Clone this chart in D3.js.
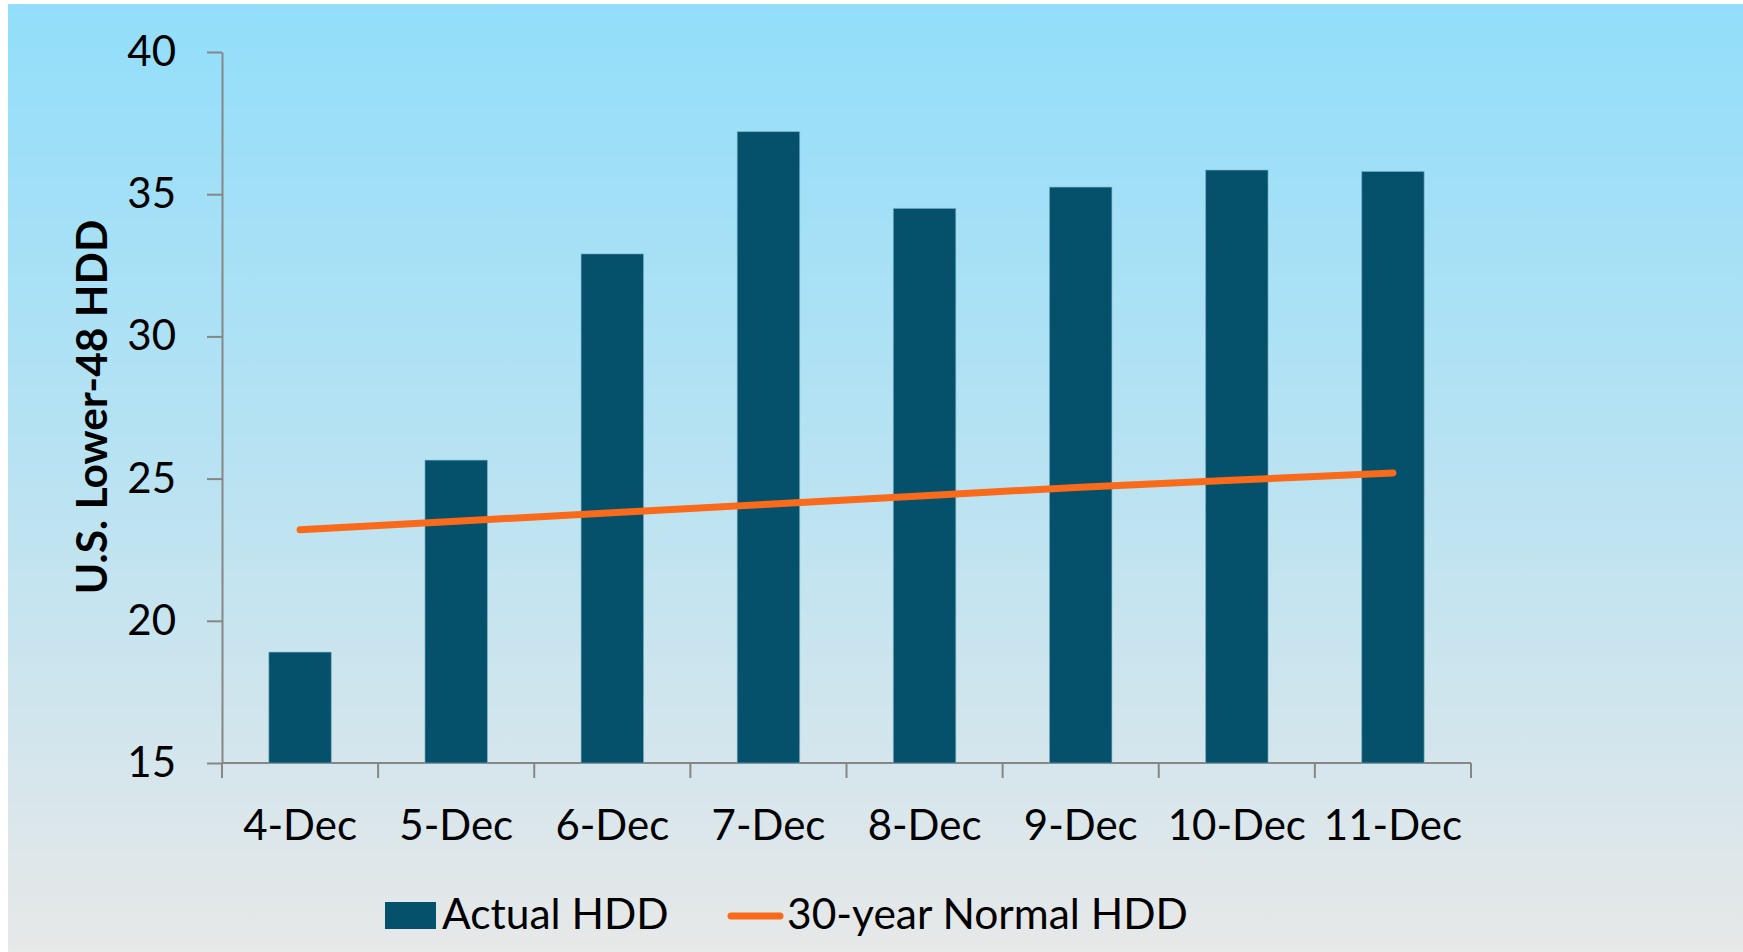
<!DOCTYPE html>
<html>
<head>
<meta charset="utf-8">
<script src="https://cdn.jsdelivr.net/npm/d3@7"></script>
<style>
html,body{margin:0;padding:0;background:#fff;}
svg{display:block;}
text{font-family:Lato,"Open Sans",sans-serif;}
</style>
</head>
<body>
<svg id="chart" width="1743" height="952"></svg>
<script>
const categories = ["4-Dec","5-Dec","6-Dec","7-Dec","8-Dec","9-Dec","10-Dec","11-Dec"];
const actualHDD = [18.9, 25.65, 32.9, 37.2, 34.5, 35.25, 35.85, 35.8];
const normalHDD = [23.2, 23.5, 23.8, 24.1, 24.4, 24.7, 24.95, 25.2];
const yTicks = [15, 20, 25, 30, 35, 40];
const yTitle = "U.S. Lower-48 HDD";
const legendLabels = ["Actual HDD", "30-year Normal HDD"];

const svg = d3.select("#chart");
const defs = svg.append("defs");
const grad = defs.append("linearGradient").attr("id","bg").attr("x1",0).attr("y1",0).attr("x2",0).attr("y2",1);
grad.append("stop").attr("offset","0%").attr("stop-color","#92DEFA");
grad.append("stop").attr("offset","45%").attr("stop-color","#B5E2F3");
grad.append("stop").attr("offset","100%").attr("stop-color","#E7E8E8");

svg.append("rect").attr("x",8).attr("y",4).attr("width",1735).attr("height",948).attr("fill","url(#bg)");

const x = d3.scaleBand().domain(categories).range([222,1471]).paddingInner(0.6).paddingOuter(0.3);
const y = d3.scaleLinear().domain([15,40]).range([763,52]);
const axisColor = "#868686";

// Y axis
const yAxis = svg.append("g").attr("transform","translate(222,0)")
  .call(d3.axisLeft(y).tickValues(yTicks).tickSize(15).tickPadding(31).tickSizeOuter(0));
yAxis.select(".domain").attr("stroke",axisColor).attr("stroke-width",2);
yAxis.selectAll(".tick line").attr("stroke",axisColor).attr("stroke-width",2);
yAxis.selectAll(".tick text").attr("font-size",42).attr("fill","#000").attr("font-family","Lato,sans-serif");

// X axis line and boundary ticks
const step = x.step();
const x0 = x.range()[0];
svg.append("line").attr("x1",x0).attr("x2",x.range()[1]).attr("y1",y(15)).attr("y2",y(15))
  .attr("stroke",axisColor).attr("stroke-width",2);
svg.append("g").selectAll("line").data(d3.range(categories.length+1)).join("line")
  .attr("x1",i=>x0+i*step).attr("x2",i=>x0+i*step)
  .attr("y1",y(15)).attr("y2",y(15)+15)
  .attr("stroke",axisColor).attr("stroke-width",2);
svg.append("g").selectAll("text").data(categories).join("text")
  .attr("x",d=>x(d)+x.bandwidth()/2).attr("y",840)
  .attr("text-anchor","middle").attr("font-size",42).attr("fill","#000")
  .text(d=>d);

// Bars
svg.append("g").selectAll("rect").data(categories).join("rect")
  .attr("x",d=>x(d)).attr("width",x.bandwidth())
  .attr("y",(d,i)=>y(actualHDD[i])).attr("height",(d,i)=>y(15)-y(actualHDD[i]))
  .attr("fill","#05506B").attr("stroke","#7fb3c8").attr("stroke-width",1).attr("stroke-opacity",0.6);

// Line
const line = d3.line().x((d,i)=>x(categories[i])+x.bandwidth()/2).y(d=>y(d));
svg.append("path").datum(normalHDD).attr("d",line).attr("fill","none")
  .attr("stroke","#F96A1B").attr("stroke-width",7).attr("stroke-linecap","round");

// Y title
svg.append("text").attr("transform","translate(107,407) rotate(-90)")
  .attr("text-anchor","middle").attr("font-size",42.5).attr("font-weight","bold").attr("fill","#000")
  .text(yTitle);

// Legend
svg.append("rect").attr("x",385).attr("y",902).attr("width",51).attr("height",27).attr("fill","#05506B");
svg.append("text").attr("x",442).attr("y",929).attr("font-size",42.5).attr("fill","#000").text(legendLabels[0]);
svg.append("line").attr("x1",731).attr("x2",780).attr("y1",916).attr("y2",916)
  .attr("stroke","#F96A1B").attr("stroke-width",7).attr("stroke-linecap","round");
svg.append("text").attr("x",787).attr("y",929).attr("font-size",42.5).attr("fill","#000").text(legendLabels[1]);
</script>
</body>
</html>
